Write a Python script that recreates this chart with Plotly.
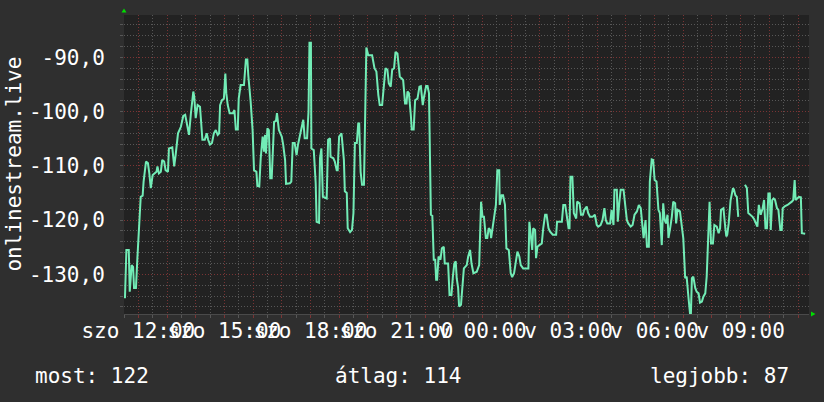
import plotly.graph_objects as go
from datetime import datetime, timedelta

# ---------------- data ----------------
START = datetime(2024, 6, 1, 11, 30)   # Saturday (szo) 11:30
END_MIN = 1433                          # end of the graph window, minutes after START

# minutes after START
minutes = [
    2, 5, 10, 12, 16, 19, 21, 25, 28, 31, 35, 39, 41, 46, 50, 53, 56, 60, 64, 68,
    70, 73, 77, 80, 84, 87, 92, 94, 101, 105, 108, 113, 119, 124, 128, 132, 136, 140, 145, 147,
    150, 154, 159, 161, 164, 169, 173, 176, 180, 184, 188, 192, 196, 199, 201, 205, 209, 212, 214, 217,
    221, 228, 231, 234, 238, 240, 244, 251, 255, 258, 260, 265, 269, 272, 277, 279, 283, 286, 290, 293,
    295, 297, 300, 303, 306, 309, 311, 314, 318, 320, 324, 330, 333, 337, 339, 347, 350, 353, 357, 361,
    364, 368,
    370, 375, 378, 383, 386, 388, 391, 392, 397, 401, 403, 408, 410, 413, 416, 424, 427, 431, 432, 438,
    441, 445, 447, 450, 455, 457, 460, 462, 466, 468, 473, 477, 480, 483, 487, 490, 492, 495, 498, 502,
    504, 507, 511, 519, 524, 528, 532, 535, 540, 543, 547, 551, 554, 558, 561, 565, 568, 572, 577, 581,
    584, 588, 591, 593, 596, 600, 602, 606, 609, 614, 618, 621, 625, 627, 632, 635, 638, 642, 645, 648,
    651, 653, 655, 658, 662, 665, 669, 671, 678, 681, 685, 688, 691, 694, 696, 699, 701, 705, 708, 711,
    717, 720, 724, 727, 731,
    738, 743, 747, 750, 753, 757, 760, 763, 766, 768, 771, 775, 778, 781, 785, 786, 790, 793, 797, 800,
    805, 809, 812, 816, 819, 823, 827, 830, 835, 846, 848, 851, 854, 856, 860, 862, 865, 869, 874, 877,
    881, 884, 888, 891, 897, 904, 906, 916, 919, 923, 926, 930, 932, 934, 938, 941, 946, 948, 953, 956,
    960, 963, 968, 971, 975, 980, 985, 989, 992, 997, 1001, 1005, 1008, 1011, 1017, 1020, 1024, 1026, 1031, 1033,
    1036, 1039, 1045, 1048, 1052, 1055, 1060, 1064, 1068, 1073, 1077, 1081, 1084, 1087,
    1091, 1094, 1098, 1100, 1104, 1107, 1110, 1114, 1118, 1121, 1125, 1128, 1131, 1134, 1137, 1139, 1142, 1146, 1149, 1153,
    1155, 1158, 1163, 1167, 1170, 1174, 1177, 1181, 1184, 1186, 1188, 1191, 1195, 1198, 1202, 1205, 1209, 1212, 1216, 1219,
    1223, 1225, 1228, 1232, 1235, 1240, 1244, 1247, 1249, 1254, 1258, 1260, 1262, 1265, 1269, 1274, 1276, 1279, 1282, 1285,
    1292, 1299, 1303, 1306, 1310, 1315, 1318, 1322, 1325, 1328, 1332, 1336, 1339, 1342, 1345, 1348, 1351, 1353, 1356, 1359,
    1362, 1366, 1369, 1373, 1376, 1378, 1383, 1388, 1394, 1397, 1400, 1403, 1405, 1409, 1412, 1416, 1418, 1425,
]

values = [
    -134.4, -125.5, -125.5, -133.2, -128.3, -128.6, -132.5, -132.5, -127.0, -121.8,
    -115.7, -115.5, -112.9, -109.2, -109.5, -111.4, -114.1, -111.7, -111.4, -111.1,
    -110.1, -111.4, -111.1, -108.9, -109.2, -110.8, -111.1, -106.8, -106.6, -110.1,
    -108.0, -104.0, -102.8, -100.8, -100.6, -102.2, -104.3, -100.3, -96.3, -97.3,
    -101.2, -98.8, -99.1, -101.5, -105.2, -105.2, -104.0, -105.2, -106.1, -105.8,
    -104.0, -103.4, -104.3, -104.0, -98.8, -97.9, -97.6, -93.0, -96.6, -98.8,
    -100.3, -100.3, -99.7, -103.3, -103.3, -97.6, -95.1, -95.1, -90.4, -90.4,
    -93.3, -98.2, -103.4, -110.8, -111.1, -113.7, -113.8, -108.6, -104.6, -107.4,
    -104.3, -107.7, -103.1, -103.4, -112.3, -112.3, -107.4, -101.9, -101.7, -100.3,
    -103.4, -104.6, -106.1, -108.9, -113.3, -113.2, -112.9, -105.8, -105.8, -108.0,
    -106.1, -104.6,
    -103.7, -101.5, -104.9, -104.9, -100.0, -87.3, -87.3, -106.8, -107.1, -113.2,
    -120.3, -120.5, -108.6, -106.8, -115.7, -116.0, -105.2, -104.9, -108.3, -108.6,
    -109.2, -110.8, -110.8, -104.6, -104.0, -106.1, -108.9, -114.7, -115.0, -121.5,
    -122.2, -121.8, -118.7, -105.8, -105.8, -102.2, -102.2, -111.1, -113.5, -113.5,
    -100.0, -88.2, -89.6, -89.6, -92.0, -92.6, -96.9, -98.8, -98.8, -95.4,
    -92.0, -92.3, -94.8, -95.4, -92.3, -92.0, -89.0, -89.3, -93.6, -93.9,
    -94.2, -98.5, -98.5, -96.3, -96.6, -100.6, -103.3, -103.3, -97.9, -97.6,
    -95.4, -95.3, -98.8, -97.6, -95.3, -95.3, -96.6, -119.0, -119.2, -127.3,
    -127.3, -131.0, -131.0, -126.7, -127.3, -125.2, -124.9, -128.0, -128.0, -133.8,
    -133.8, -130.4, -128.0, -127.6, -130.7, -132.5, -135.9, -135.6, -131.6, -128.9,
    -128.3, -126.7, -125.5, -128.0, -129.8,
    -129.5, -128.3, -116.6, -119.4, -119.4, -123.3, -123.3, -121.5, -121.8, -123.3,
    -121.5, -119.7, -117.2, -110.8, -110.8, -117.2, -115.4, -115.4, -117.2, -125.2,
    -125.5, -129.8, -130.5, -129.8, -128.0, -125.8, -126.7, -128.3, -128.9, -128.9,
    -120.3, -122.4, -125.5, -121.5, -121.8, -127.0, -124.9, -124.6, -124.3, -121.5,
    -119.0, -119.0, -121.5, -122.1, -122.7, -122.7, -120.3, -120.3, -117.2, -117.2,
    -118.7, -121.5, -121.5, -112.0, -112.0, -118.7, -119.7, -116.6, -116.9, -119.0,
    -119.0, -118.1, -117.5, -118.7, -119.4, -119.4, -119.0, -120.9, -121.2, -120.9,
    -120.0, -117.8, -120.0, -120.6, -120.6, -118.1, -120.9, -114.4, -114.4, -120.3,
    -116.9, -114.4, -114.4, -116.9, -120.0, -120.6, -121.2, -120.9, -119.0, -118.4,
    -117.2, -117.8, -120.0, -123.3,
    -120.0, -124.9, -124.9, -112.9, -108.8, -108.9, -112.6, -112.9, -118.1, -118.7,
    -124.6, -116.9, -120.0, -120.6, -119.0, -123.3, -121.8, -119.4, -116.6, -116.9,
    -120.6, -118.1, -118.4, -121.8, -123.3, -130.7, -130.4, -134.4, -137.1, -137.1,
    -130.7, -130.4, -132.5, -133.2, -133.5, -135.2, -135.0, -134.1, -133.5, -130.4,
    -121.8, -116.6, -124.3, -124.3, -120.9, -121.2, -122.4, -121.5, -118.1, -117.8,
    -121.5, -123.0, -122.7, -120.6, -116.3, -114.1, -114.4, -115.4, -115.7, -119.4,
    None, -113.5, -114.1, -118.7, -119.0, -119.4, -119.8, -120.6, -121.2, -117.2,
    -119.0, -117.8, -116.3, -121.5, -121.5, -115.1, -115.1, -121.8, -116.3, -116.0,
    -116.3, -117.8, -118.1, -121.8, -121.8, -117.8, -117.4, -117.2, -116.9, -116.6,
    -116.3, -112.6, -116.3, -116.0, -115.7, -115.8, -122.4, -122.5,
]

x_label_times = ["2024-06-01 12:00", "2024-06-01 15:00", "2024-06-01 18:00", "2024-06-01 21:00",
                 "2024-06-02 00:00", "2024-06-02 03:00", "2024-06-02 06:00", "2024-06-02 09:00"]
x_label_text = ["szo 12:00", "szo 15:00", "szo 18:00", "szo 21:00",
                "v 00:00", "v 03:00", "v 06:00", "v 09:00"]

y_tick_vals = [-130, -120, -110, -100, -90]
y_tick_text = ["-130,0", "-120,0", "-110,0", "-100,0", "-90,0"]
y_range = [-137.3, -82.2]

y_title = "onlinestream.live"
stat_labels = ["most", "átlag", "legjobb"]
stat_values = [122, 114, 87]

# ---------------- styling ----------------
PAPER = "#2f2f2f"
CANVAS = "#222222"
LINE = "#72ecb6"
MAJOR = "#7a3434"
MINOR = "#575757"
FONT = "DejaVu Sans Mono"
FS = 21

times = [START + timedelta(minutes=m) for m in minutes]

# hourly grid ticks, labelled every 3 hours
label_map = dict(zip(x_label_times, x_label_text))
hour_ticks, hour_text = [], []
h = START.replace(minute=0) + timedelta(hours=1)
while h <= START + timedelta(minutes=END_MIN):
    key = h.strftime("%Y-%m-%d %H:%M")
    hour_ticks.append(h)
    hour_text.append(label_map.get(key, ""))
    h += timedelta(hours=1)

fig = go.Figure()
fig.add_trace(go.Scatter(
    x=times, y=values, mode="lines",
    line=dict(color=LINE, width=2),
    connectgaps=False, hoverinfo="skip", showlegend=False,
))

fig.update_layout(
    width=824, height=402,
    margin=dict(l=124, r=15, t=15, b=88, autoexpand=False),
    paper_bgcolor=PAPER, plot_bgcolor=CANVAS,
    font=dict(family=FONT, size=FS, color="#ffffff"),
    showlegend=False,
)

fig.update_xaxes(
    type="date", automargin=False,
    range=[START, START + timedelta(minutes=END_MIN)],
    tickmode="array", tickvals=hour_ticks, ticktext=hour_text,
    tickangle=0,
    showgrid=True, gridcolor=MAJOR, griddash="1px,2px", gridwidth=1,
    ticks="outside", ticklen=3, tickcolor=MAJOR,
    ticklabelstandoff=-5,
    minor=dict(tickmode="linear", tick0="2024-06-01 00:00", dtick=30 * 60 * 1000,
               showgrid=True, gridcolor=MINOR, griddash="1px,2px",
               ticks="outside", ticklen=3, tickcolor=MINOR),
    showline=True, linecolor="#4a4a4a", linewidth=1,
    zeroline=False, fixedrange=True,
    tickfont=dict(family=FONT, size=FS, color="#ffffff"),
)

fig.update_yaxes(
    automargin=False,
    range=y_range,
    tickmode="array", tickvals=y_tick_vals, ticktext=y_tick_text,
    showgrid=True, gridcolor=MAJOR, griddash="1px,2px", gridwidth=1,
    ticks="outside", ticklen=3, tickcolor=MINOR,
    ticklabelstandoff=11,
    minor=dict(tickmode="linear", tick0=0, dtick=2,
               showgrid=True, gridcolor=MINOR, griddash="1px,2px",
               ticks="outside", ticklen=3, tickcolor=MINOR),
    showline=False, zeroline=False, fixedrange=True,
    tickfont=dict(family=FONT, size=FS, color="#ffffff"),
)

annotations = [
    dict(text=y_title, textangle=-90, xref="paper", yref="paper",
         x=-0.162, y=0.5, xanchor="center", yanchor="middle", showarrow=False,
         font=dict(family=FONT, size=FS, color="#ffffff")),
]
stat_x = [-0.1328, 0.4007, 0.9737]
stat_anchor = ["left", "center", "right"]
for lab, val, sx, sa in zip(stat_labels, stat_values, stat_x, stat_anchor):
    annotations.append(dict(text=f"{lab}: {val}", xref="paper", yref="paper",
                            x=sx, y=-0.207, xanchor=sa, yanchor="middle", showarrow=False,
                            font=dict(family=FONT, size=FS, color="#ffffff")))
fig.update_layout(annotations=annotations)

# small green arrow heads at the ends of the axes
fig.add_shape(type="path", xref="paper", yref="paper", xsizemode="pixel", ysizemode="pixel",
              xanchor=0, yanchor=1, path="M -2.5,2.5 L 2.5,2.5 L 0,6.5 Z",
              fillcolor="#00dd00", line=dict(width=0))
fig.add_shape(type="path", xref="paper", yref="paper", xsizemode="pixel", ysizemode="pixel",
              xanchor=1, yanchor=0, path="M 2,2.5 L 2,-2.5 L 6.5,0 Z",
              fillcolor="#00dd00", line=dict(width=0))

fig.write_html("out.html",
               config={"displayModeBar": False, "staticPlot": True},
               post_script="document.body.style.margin='0';document.body.style.background='#2f2f2f';")
